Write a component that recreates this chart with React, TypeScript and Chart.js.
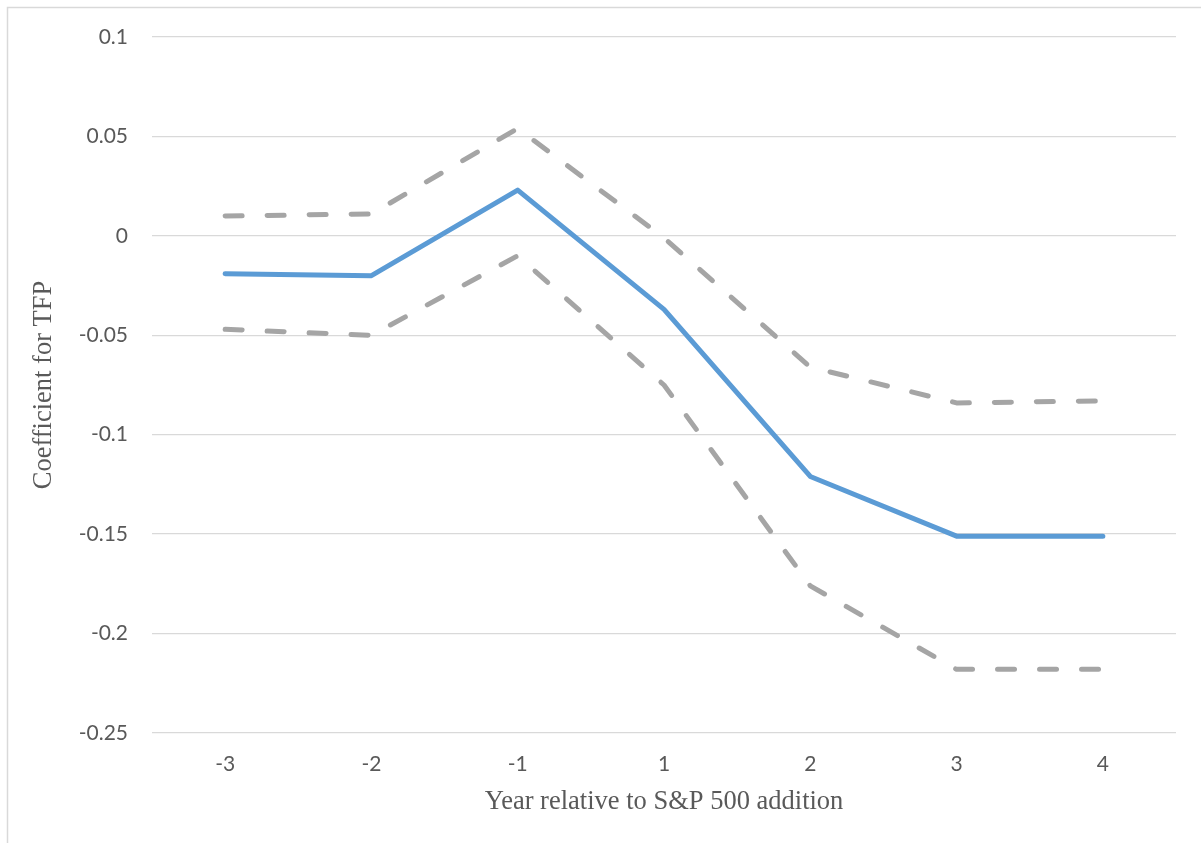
import React, { useEffect, useRef } from "react";
import { Chart, registerables } from "chart.js";

Chart.register(...registerables);

const categories = ["-3", "-2", "-1", "1", "2", "3", "4"];
const coefficient = [-0.019, -0.020, 0.023, -0.037, -0.121, -0.151, -0.151];
const upperBound = [0.010, 0.011, 0.054, -0.001, -0.066, -0.084, -0.083];
const lowerBound = [-0.047, -0.050, -0.010, -0.075, -0.176, -0.218, -0.218];
const yTicks = [0.1, 0.05, 0, -0.05, -0.1, -0.15, -0.2, -0.25];
const yTickLabels = ["0.1", "0.05", "0", "-0.05", "-0.1", "-0.15", "-0.2", "-0.25"];

const xTitle = "Year relative to S&P 500 addition";
const yTitle = "Coefficient for TFP";

const borderPlugin = {
  id: "outerBorder",
  beforeDraw(chart: any) {
    const ctx = chart.ctx;
    ctx.save();
    ctx.fillStyle = "#ffffff";
    ctx.fillRect(0, 0, chart.width, chart.height);
    ctx.strokeStyle = "#d9d9d9";
    ctx.lineWidth = 1.5;
    ctx.beginPath();
    ctx.moveTo(7.5, chart.height);
    ctx.lineTo(7.5, 7.5);
    ctx.lineTo(chart.width, 7.5);
    ctx.stroke();
    ctx.restore();
  },
};

export default function App() {
  const canvasRef = useRef<HTMLCanvasElement | null>(null);

  useEffect(() => {
    const canvas = canvasRef.current;
    if (!canvas) return;
    const chart = new Chart(canvas, {
      type: "line",
      data: {
        labels: categories,
        datasets: [
          {
            label: "Upper",
            data: upperBound,
            borderColor: "#a5a5a5",
            borderWidth: 5,
            borderDash: [17, 25],
            borderCapStyle: "round",
            borderJoinStyle: "round",
            pointRadius: 0,
            tension: 0,
            fill: false,
          },
          {
            label: "Lower",
            data: lowerBound,
            borderColor: "#a5a5a5",
            borderWidth: 5,
            borderDash: [17, 25],
            borderCapStyle: "round",
            borderJoinStyle: "round",
            pointRadius: 0,
            tension: 0,
            fill: false,
          },
          {
            label: "Coefficient",
            data: coefficient,
            borderColor: "#5b9bd5",
            borderWidth: 5,
            borderCapStyle: "round",
            borderJoinStyle: "round",
            pointRadius: 0,
            tension: 0,
            fill: false,
          },
        ],
      },
      options: {
        responsive: false,
        animation: false,
        events: [],
        layout: { padding: { top: 37, right: 25, left: 0, bottom: 0 } },
        plugins: {
          legend: { display: false },
          tooltip: { enabled: false },
        },
        scales: {
          x: {
            type: "category",
            offset: true,
            grid: { display: false, drawTicks: false },
            border: { display: false },
            ticks: {
              padding: 19,
              color: "#595959",
              font: { family: "Lato", size: 21 },
              maxRotation: 0,
            },
            title: {
              display: true,
              text: xTitle,
              color: "#595959",
              font: { family: "Liberation Serif", size: 26.5 },
              padding: { top: 0, bottom: 25 },
            },
            afterFit(scale: any) {
              scale.height = 110;
            },
          },
          y: {
            min: -0.25,
            max: 0.1,
            grid: { color: "#d9d9d9", lineWidth: 1.3, drawTicks: false },
            border: { display: false },
            afterBuildTicks(scale: any) {
              scale.ticks = yTicks.map((v) => ({ value: v }));
            },
            ticks: {
              padding: 24,
              color: "#595959",
              font: { family: "Lato", size: 21 },
              callback: (value: any) => {
                const i = yTicks.findIndex((t) => Math.abs(t - Number(value)) < 1e-9);
                return i >= 0 ? yTickLabels[i] : "";
              },
            },
            title: {
              display: true,
              text: yTitle,
              color: "#595959",
              font: { family: "Liberation Serif", size: 26.5 },
              padding: { top: 28, bottom: 0 },
            },
            afterFit(scale: any) {
              scale.width = 152;
            },
          },
        },
      },
      plugins: [borderPlugin],
    });
    return () => chart.destroy();
  }, []);

  return (
    <canvas
      ref={canvasRef}
      width={1201}
      height={843}
      style={{ position: "fixed", left: 0, top: 0, width: 1201, height: 843, display: "block" }}
    />
  );
}
